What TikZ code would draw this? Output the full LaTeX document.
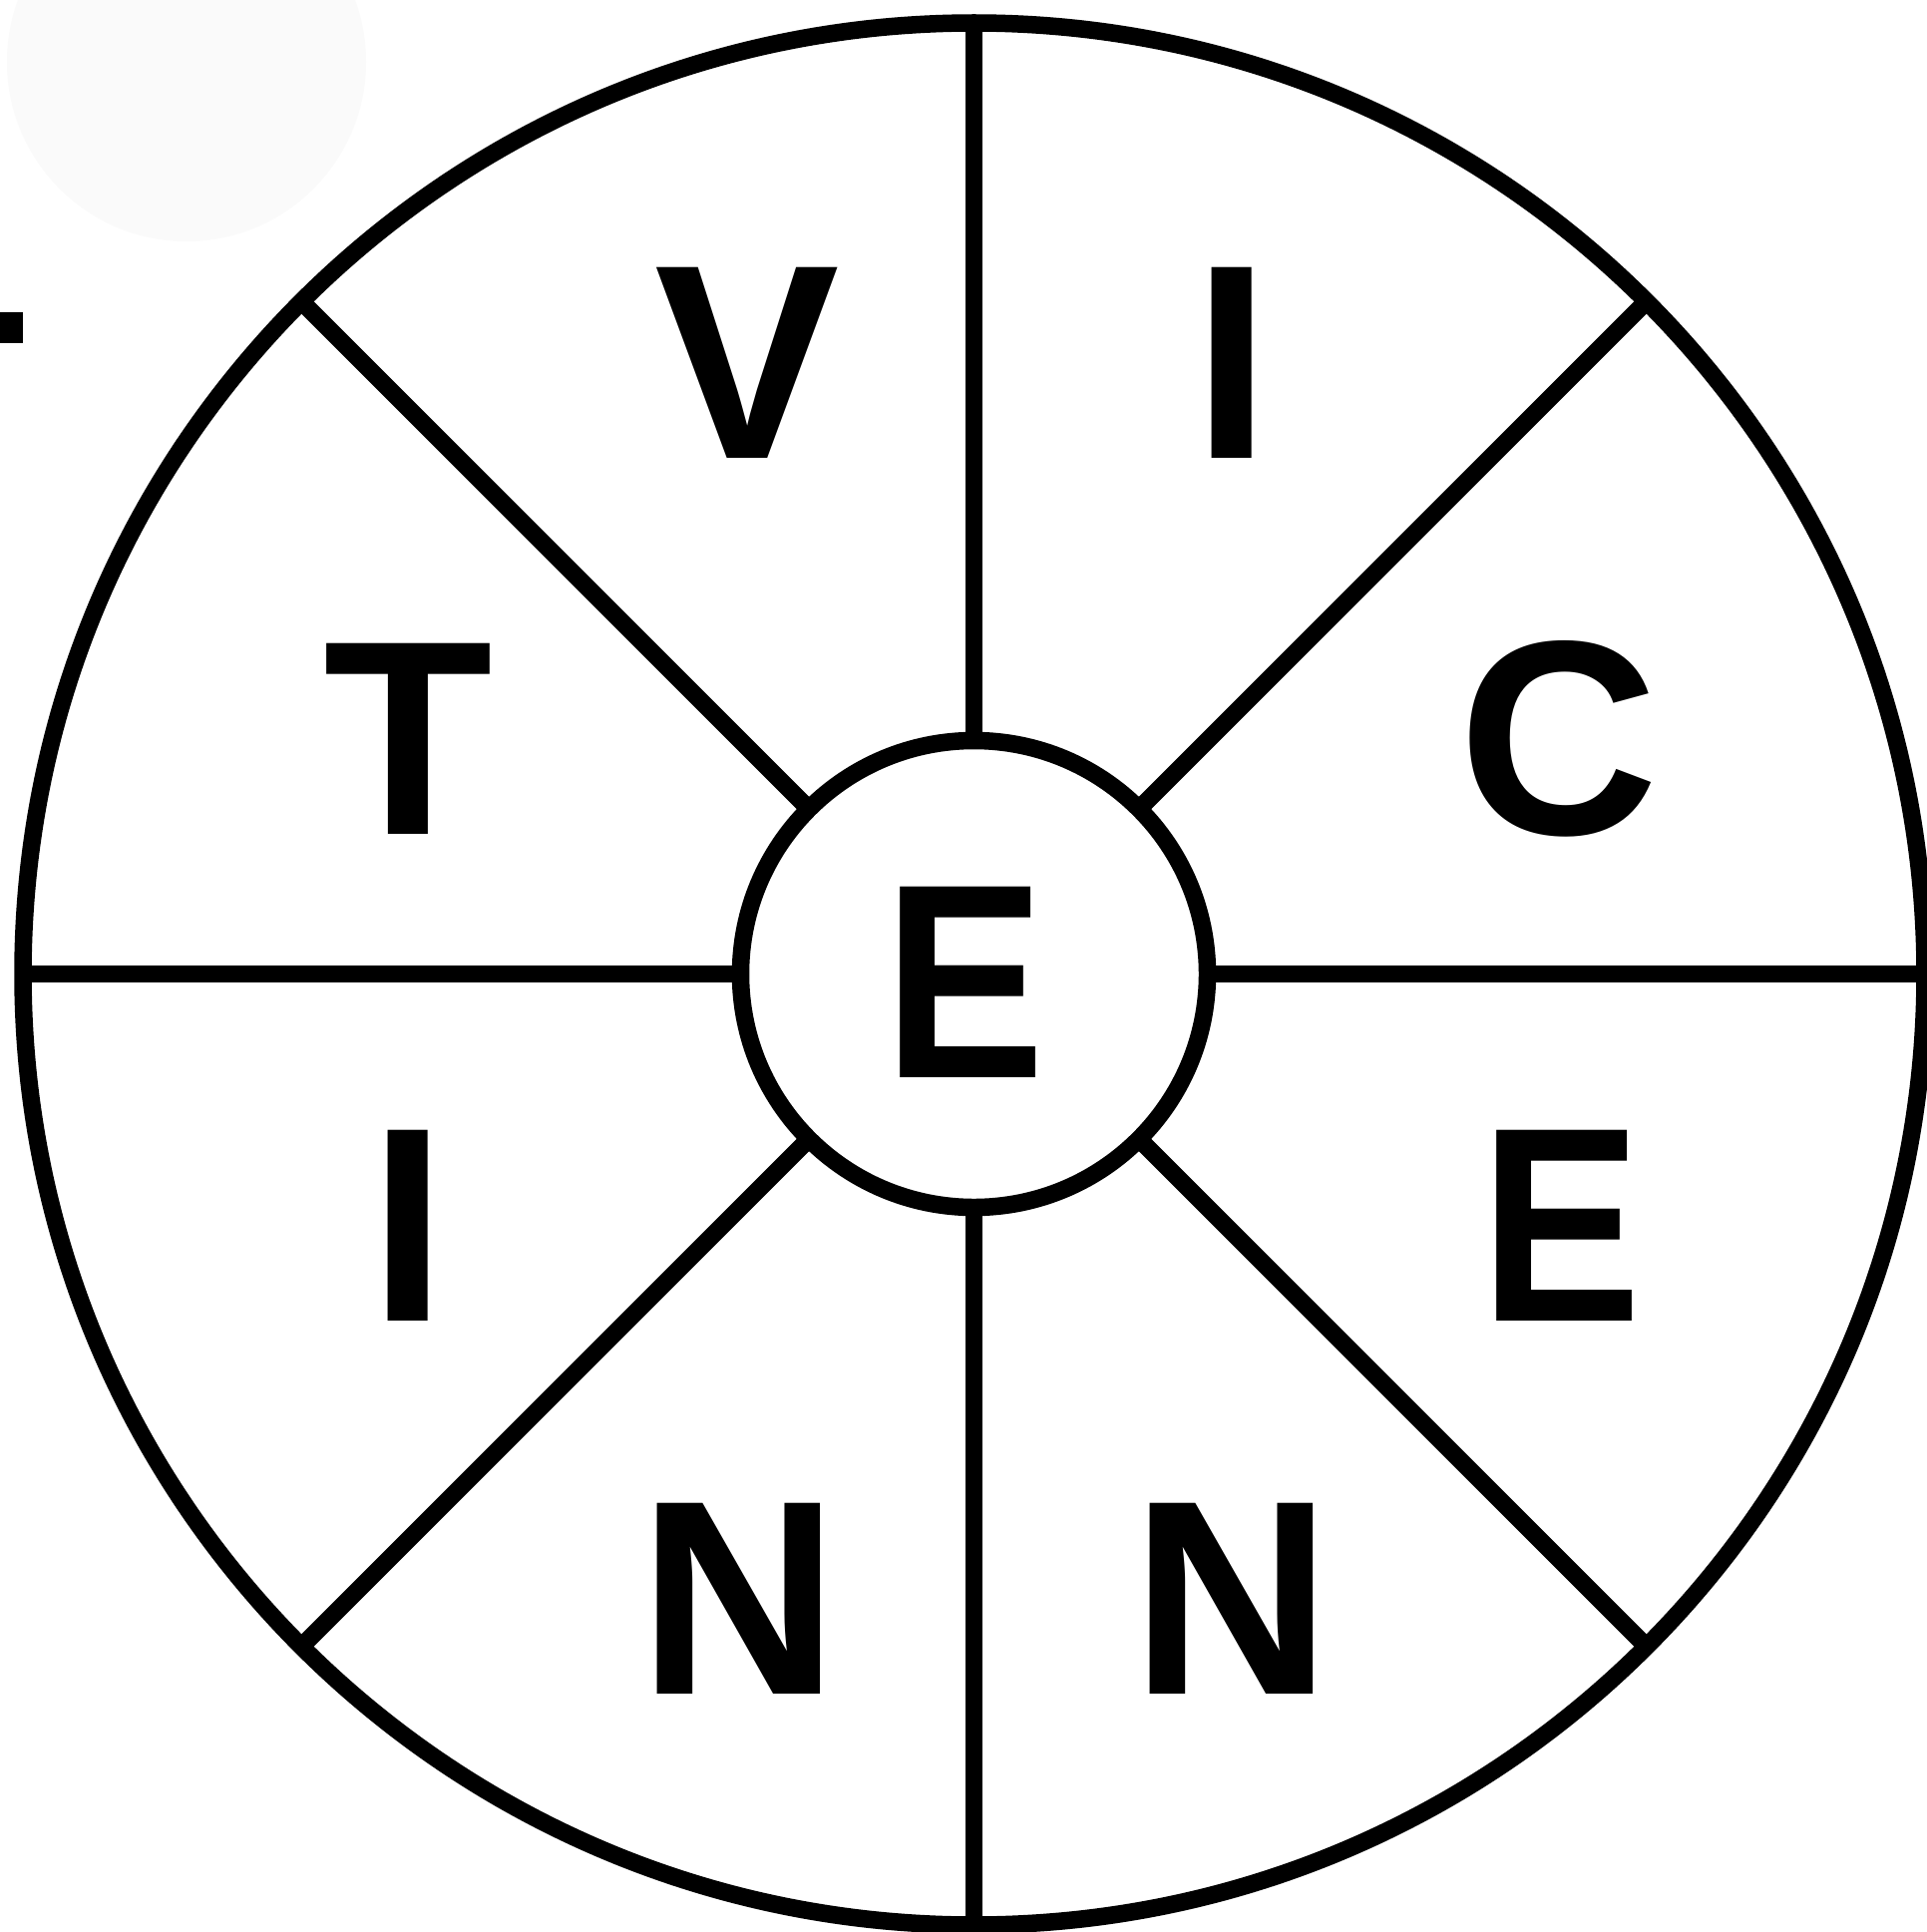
\documentclass[tikz,border=0pt]{standalone}
\usepackage{fontspec}
\setmainfont{Liberation Sans}
\definecolor{faint}{HTML}{FAFAFA}
\tikzset{
  ring/.style={circle, draw=black, line width=17.5pt, outer sep=0pt, inner sep=0pt},
  spoke/.style={draw=black, line width=17.5pt},
  letter/.style={inner sep=0pt, outer sep=0pt, font=\fontsize{278}{278}\selectfont\bfseries}
}
\newcommand{\narrowE}{\scalebox{0.87}[1]{E}}
\begin{document}
\begin{tikzpicture}[x=1pt,y=-1pt]
\useasboundingbox (0,0) rectangle (1931,1937);
\fill[white] (0,0) rectangle (1931,1937);
% faint background blob and small mark
\fill[faint] (187,62) circle[radius=180];
\fill[black] (0,313) rectangle (23,344);
% wheel
\node[ring, minimum size=1907pt] (outer) at (976.5,976.5) {};
\node[ring, minimum size=468pt] (inner) at (976.5,976.5) {};
\foreach \a in {0,45,...,315} {
  \draw[spoke] (inner.\a) -- (outer.\a);
}
% letters
\node[letter] (v)  at (749,364)   {V};
\node[letter] (i1) at (1235.5,364) {I};
\node[letter] (c)  at (1563,741)  {C};
\node[letter] (e1) at (1565,1229) {\narrowE};
\node[letter] (n1) at (1235,1603) {N};
\node[letter] (n2) at (741,1603)  {N};
\node[letter] (i2) at (409.6,1229) {I};
\node[letter] (t)  at (409.6,741) {T};
\node[letter] (e0) at (967,985)   {\narrowE};
\end{tikzpicture}
\end{document}
